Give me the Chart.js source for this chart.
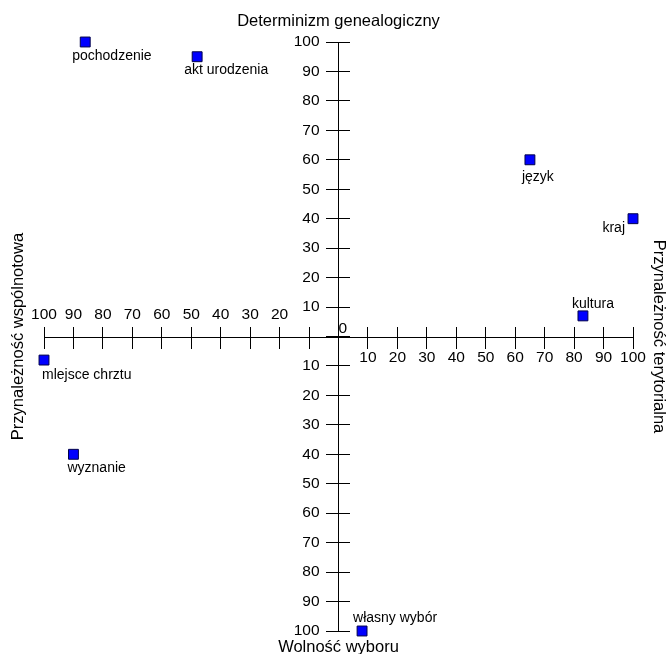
<!DOCTYPE html>
<html>
<head>
<meta charset="utf-8">
<script src="https://cdn.jsdelivr.net/npm/chart.js@4/dist/chart.umd.min.js"></script>
<style>
  html, body { margin: 0; padding: 0; background: #fff; }
</style>
</head>
<body>
<canvas id="chart" width="668" height="654"></canvas>
<script>
// dane
const labels = ['pochodzenie', 'akt urodzenia', 'język', 'kraj', 'kultura', 'mlejsce chrztu', 'wyznanie', 'własny wybór'];
const xValues = [-86, -48, 65, 100, 83, -100, -90, 8];
const yValues = [100, 95, 60, 40, 7, -8, -40, -100];

const titleTop = 'Determinizm genealogiczny';
const titleBottom = 'Wolność wyboru';
const titleLeft = 'Przynależność wspólnotowa';
const titleRight = 'Przynależność terytorialna';

const FONT = 'Arial, "Liberation Sans", sans-serif';
const tickFont = { family: FONT, size: 15.5 };
const titleFont = { family: FONT, size: 16.5 };

// gdzie stoi podpis względem punktu
const labelPlacement = [
  { dx: -13, dy: 18, align: 'left' },
  { dx: -13, dy: 17, align: 'left' },
  { dx: -8, dy: 21, align: 'left' },
  { dx: -8, dy: 13, align: 'right' },
  { dx: -11, dy: -8, align: 'left' },
  { dx: -2, dy: 19, align: 'left' },
  { dx: -6, dy: 18, align: 'left' },
  { dx: -9, dy: -9, align: 'left' },
];

const pointLabels = {
  id: 'pointLabels',
  afterDatasetsDraw(chart) {
    const ctx = chart.ctx;
    const meta = chart.getDatasetMeta(0);
    ctx.save();
    ctx.font = '14px ' + FONT;
    ctx.fillStyle = '#000';
    ctx.textBaseline = 'alphabetic';
    meta.data.forEach((pt, i) => {
      const p = labelPlacement[i];
      ctx.textAlign = p.align;
      ctx.fillText(labels[i], pt.x + p.dx, pt.y + p.dy);
    });
    ctx.restore();
  }
};

const r = v => Math.round(v);

// osie środkowe
function centerAxis(axis, extra) {
  const base = {
    type: 'linear',
    axis: axis,
    position: 'center',
    min: -100,
    max: 100,
    ticks: { stepSize: 10, autoSkip: false, maxRotation: 0, font: tickFont, color: '#000' },
    grid: { drawOnChartArea: false, color: '#000', lineWidth: 1 },
    border: { color: '#000', width: 1 },
  };
  return {
    ...base,
    ...extra,
    ticks: { ...base.ticks, ...(extra.ticks || {}) },
    grid: { ...base.grid, ...(extra.grid || {}) },
    border: { ...base.border, ...(extra.border || {}) },
  };
}

// osie tylko z tytułem
function titleAxis(axis, position, text, padding) {
  return {
    type: 'linear',
    axis: axis,
    position: position,
    display: true,
    ticks: { display: false },
    grid: { display: false, drawTicks: false, tickLength: 0 },
    border: { display: false },
    title: { display: true, text: text, font: titleFont, color: '#000', padding: padding },
  };
}

new Chart(document.getElementById('chart'), {
  type: 'scatter',
  data: {
    labels: labels,
    datasets: [{
      label: 'punkty',
      data: xValues.map((x, i) => ({ x: x, y: yValues[i] })),
      pointStyle: 'rect',
      pointRadius: 7,
      pointHoverRadius: 7,
      backgroundColor: '#0000ff',
      borderColor: '#00004a',
      borderWidth: 1,
      clip: false,
    }]
  },
  options: {
    responsive: false,
    animation: false,
    events: [],
    plugins: { legend: { display: false }, tooltip: { enabled: false } },
    layout: { padding: 0 },
    scales: {
      x: centerAxis('x', {
        ticks: { padding: -20, callback: v => (v < -10 ? String(-r(v)) : '') },
        grid: { tickLength: -11 },
      }),
      x2: centerAxis('x', {
        ticks: { padding: 1, callback: v => (v > 0 ? String(r(v)) : '') },
        grid: { tickLength: 11 },
      }),
      x0: centerAxis('x', {
        ticks: { padding: -17, callback: v => (r(v) === 0 ? '  0' : '') },
        grid: { display: false, drawTicks: false },
        border: { display: false },
      }),
      y: centerAxis('y', {
        ticks: { padding: 7, callback: v => (r(v) !== 0 ? String(Math.abs(r(v))) : '') },
        grid: { tickLength: 12 },
      }),
      y2: centerAxis('y', {
        ticks: { display: false },
        grid: { tickLength: -12 },
      }),
      xTitleTop: titleAxis('x', 'top', titleTop, { top: 11.1, bottom: 11.1 }),
      xTitleBottom: titleAxis('x', 'bottom', titleBottom, { top: 6.1, bottom: -2.9 }),
      yTitleLeft: titleAxis('y', 'left', titleLeft, { top: 8.4, bottom: 15.8 }),
      yTitleRight: titleAxis('y', 'right', titleRight, { top: 0, bottom: 15.2 }),
    }
  },
  plugins: [pointLabels]
});
</script>
</body>
</html>
